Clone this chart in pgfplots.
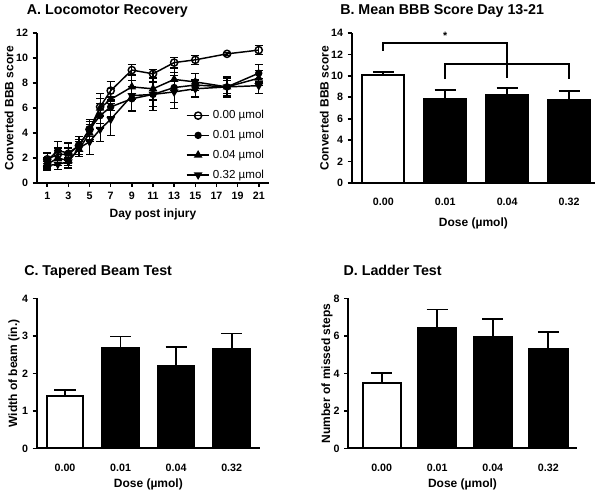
\documentclass[border=0pt]{standalone}
\usepackage{fontspec}
\setmainfont{Liberation Sans}
\usepackage{pgfplots}
\pgfplotsset{compat=1.18}

\pgfplotsset{
  prism/.style={
    scale only axis,
    axis x line=bottom, axis y line=left,
    axis line style={-, line width=1.5pt},
    tick align=outside, major tick length=3pt,
    tick style={line width=1.2pt, black},
    ticklabel style={font=\bfseries\fontsize{8}{9}\selectfont},
    label style={font=\bfseries\fontsize{9}{11}\selectfont},
    /pgf/number format/assume math mode=true,
    enlargelimits=false, ymin=0, clip=false,
    ylabel shift=-5pt,
  },
  dose/.style={
    prism,
    xtick={0,1,2,3}, xticklabels={0.00,0.01,0.04,0.32},
    major x tick style={draw=none},
    xticklabel shift=5pt,
    xlabel shift=-1pt,
    xlabel={Dose (µmol)},
  },
  ebar/.style={
    error bars/.cd, y dir=plus, y explicit,
    error bar style={line width=1.3pt},
    error mark options={rotate=90, mark size=7.9pt, line width=1.3pt},
  },
  eline/.style={
    error bars/.cd, y dir=both, y explicit,
    error bar style={line width=0.9pt},
    error mark options={rotate=90, mark size=3pt, line width=0.9pt},
  },
}

\begin{document}
\begin{tikzpicture}
\useasboundingbox (0,0) rectangle (450pt,-368.25pt);

% titles
\begin{scope}[every node/.style={anchor=base west, inner sep=0pt, font=\bfseries\fontsize{10.7}{12}\selectfont}]
\node at (20pt,-11.25pt) {A. Locomotor Recovery};
\node at (255pt,-11.25pt) {B. Mean BBB Score Day 13-21};
\node at (18pt,-207pt) {C. Tapered Beam Test};
\node at (257.5pt,-207pt) {D. Ladder Test};
\end{scope}

% A
\begin{axis}[prism, at={(27.5pt,-137.25pt)}, anchor=south west,
  width=174.5pt, height=112.3pt,
  xmin=0, xmax=22, ymax=12,
  xtick={1,3,...,21}, ytick={0,2,...,12},
  xlabel={Day post injury}, ylabel={Converted BBB score},
  legend style={draw=none, fill=none, at={(0.99,0.0)}, anchor=south east,
    font=\fontsize{8.7}{10}\selectfont, row sep=3pt, inner sep=0pt},
  legend cell align=left, reverse legend,
  every axis plot/.append style={black, line width=1.1pt},
]
\addplot[mark=triangle*, mark size=2.7pt, mark options={rotate=180}, eline]
  table[x index=0, y index=1, y error index=2] {
1 1.4 0.3
2 1.5 0.4
3 1.7 0.3
4 2.8 0.7
5 3.3 1.0
6 4.3 1.0
7 5.1 1.3
9 7.0 1.2
11 7.1 1.0
13 7.3 1.3
15 7.55 0.7
18 7.7 0.5
21 7.8 0.6
};
\addlegendentry{0.32 µmol}
\addplot[mark=triangle*, mark size=2.7pt, eline]
  table[x index=0, y index=1, y error index=2] {
1 1.5 0.5
2 2.0 0.6
3 1.8 0.6
4 2.7 0.6
5 4.0 0.7
6 6.0 1.2
7 6.7 0.9
9 7.7 1.0
11 7.55 0.9
13 8.3 0.9
15 8.1 0.7
18 7.7 0.7
21 8.4 0.6
};
\addlegendentry{0.04 µmol}
\addplot[mark=*, mark size=2.2pt, eline]
  table[x index=0, y index=1, y error index=2] {
1 1.8 0.6
2 2.6 0.7
3 2.4 0.8
4 3.0 0.7
5 4.3 0.8
6 5.4 1.0
7 6.1 0.8
9 6.75 1.0
11 7.1 1.3
13 7.65 1.2
15 7.85 0.9
18 7.7 0.8
21 8.8 0.7
};
\addlegendentry{0.01 µmol}
\addplot[mark=o, mark size=2.7pt, mark options={fill=white}, eline]
  table[x index=0, y index=1, y error index=2] {
1 1.9 0.5
2 2.3 0.5
3 2.3 0.5
4 3.0 0.5
5 4.3 0.6
6 6.1 0.7
7 7.4 0.75
9 9.05 0.45
11 8.75 0.35
13 9.65 0.4
15 9.87 0.35
18 10.35 0.1
21 10.65 0.35
};
\addlegendentry{0.00 µmol}
\end{axis}

% B
\begin{axis}[dose, at={(263.8pt,-137.25pt)}, anchor=south west,
  width=182.5pt, height=112.5pt,
  xmin=-0.51, xmax=3.42, ymax=14, ytick={0,2,...,14},
  ylabel={Converted BBB score}, xlabel shift=2pt,
]
\addplot[ybar, bar width=0.68, fill=white, draw=black, line width=1.5pt, ebar]
  coordinates {(0,10.1) +- (0,0.25)};
\addplot[ybar, bar width=0.68, fill=black, draw=black, line width=1.5pt, ebar]
  coordinates {(1,7.8) +- (0,0.85) (2,8.2) +- (0,0.65) (3,7.72) +- (0,0.87)};
\addplot[black, line width=1.5pt, no marks] coordinates {(0,12.35) (0,13.1) (2,13.1) (2,9.8)};
\addplot[black, line width=1.5pt, no marks] coordinates {(1,9.7) (1,11.1) (3,11.1) (3,9.7)};
\node[font=\bfseries\fontsize{8}{9}\selectfont] at (axis cs:1,13.75) {*};
\end{axis}

% C
\begin{axis}[dose, at={(27.5pt,-336.25pt)}, anchor=south west,
  width=167.5pt, height=112.5pt,
  xmin=-0.51, xmax=3.51, ymax=4, ytick={0,1,...,4},
  ylabel={Width of beam (in.)},
]
\addplot[ybar, bar width=0.66, fill=white, draw=black, line width=1.5pt, ebar]
  coordinates {(0,1.40) +- (0,0.16)};
\addplot[ybar, bar width=0.66, fill=black, draw=black, line width=1.5pt, ebar]
  coordinates {(1,2.67) +- (0,0.31) (2,2.20) +- (0,0.50) (3,2.64) +- (0,0.42)};
\end{axis}

% D
\begin{axis}[dose, at={(261.25pt,-336.25pt)}, anchor=south west,
  width=171.25pt, height=112.5pt,
  xmin=-0.6, xmax=3.51, ymax=8, ytick={0,2,...,8},
  ylabel={Number of missed steps}, ylabel shift=-6pt,
]
\addplot[ybar, bar width=0.69, fill=white, draw=black, line width=1.5pt, ebar]
  coordinates {(0,3.47) +- (0,0.53)};
\addplot[ybar, bar width=0.69, fill=black, draw=black, line width=1.5pt, ebar]
  coordinates {(1,6.40) +- (0,1.01) (2,5.96) +- (0,0.92) (3,5.28) +- (0,0.91)};
\end{axis}
\end{tikzpicture}
\end{document}
